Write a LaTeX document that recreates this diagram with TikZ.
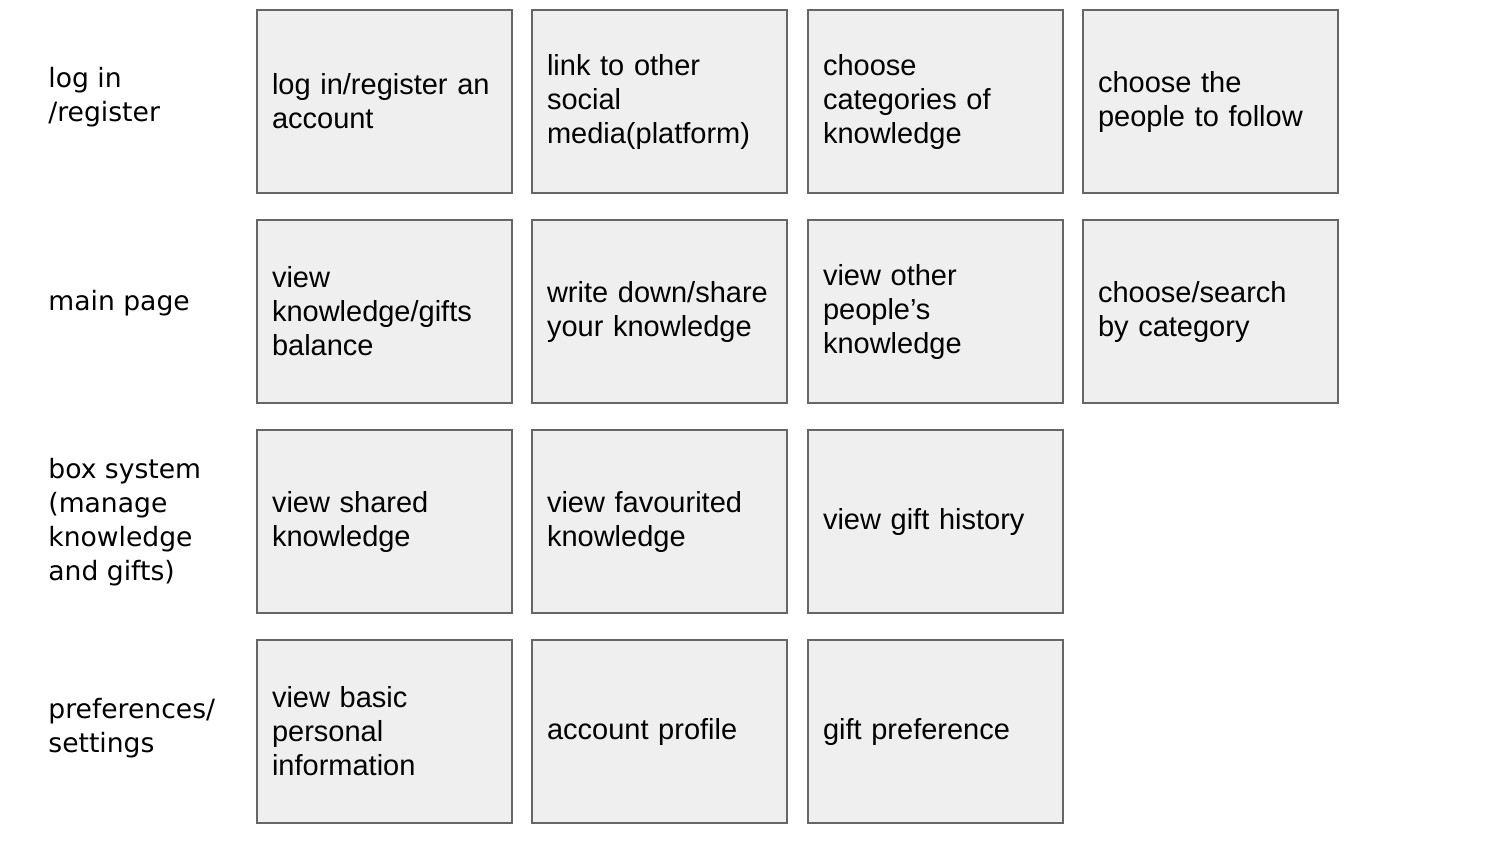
\documentclass[tikz,border=0pt]{standalone}
\usepackage{fontspec}
\setmainfont{Liberation Sans}
\newfontfamily\labelfont{DejaVu Sans}
\usepackage{xcolor}
\usepackage{tikz}

\definecolor{cellfill}{HTML}{EFEFEF}
\definecolor{celledge}{HTML}{666666}

\tikzset{
	cell/.style={draw=celledge, fill=cellfill, line width=0.75pt, minimum width=127.5pt, minimum height=91.5pt, inner sep=7.5pt, text width=112.5pt, align=left, font=\fontsize{14.5pt}{17pt}\selectfont},
	rowlabel/.style={anchor=west, inner sep=0pt, align=left, font=\labelfont\fontsize{13.3pt}{17pt}\selectfont}
}

\begin{document}
\begin{tikzpicture}[x=0.5pt,y=-0.5pt]

\useasboundingbox (0,0) rectangle (1500,842);

% row labels
\node[rowlabel] (login) at (48,97) {log in\\/register};
\node[rowlabel] (main) at (48,303) {main page};
\node[rowlabel] (box) at (48,522) {box system\\(manage\\knowledge\\and gifts)};
\node[rowlabel] (pref) at (48,728) {preferences/\\settings};

% log in / register
\node[cell] (a1) at (384.5,101.5) {log in/register an\\account};
\node[cell] (a2) at (659.5,101.5) {link to other\\social\\media(platform)};
\node[cell] (a3) at (935.5,101.5) {choose\\categories of\\knowledge};
\node[cell] (a4) at (1210.5,101.5) {choose the\\people to follow};

% main page
\node[cell] (b1) at (384.5,311.5) {view\\knowledge/gifts\\balance};
\node[cell] (b2) at (659.5,311.5) {write down/share\\your knowledge};
\node[cell] (b3) at (935.5,311.5) {view other\\people’s\\knowledge};
\node[cell] (b4) at (1210.5,311.5) {choose/search\\by category};

% box system
\node[cell] (c1) at (384.5,521.5) {view shared\\knowledge};
\node[cell] (c2) at (659.5,521.5) {view favourited\\knowledge};
\node[cell] (c3) at (935.5,521.5) {view gift history};

% preferences / settings
\node[cell] (d1) at (384.5,731.5) {view basic\\personal\\information};
\node[cell] (d2) at (659.5,731.5) {account profile};
\node[cell] (d3) at (935.5,731.5) {gift preference};

\end{tikzpicture}
\end{document}
